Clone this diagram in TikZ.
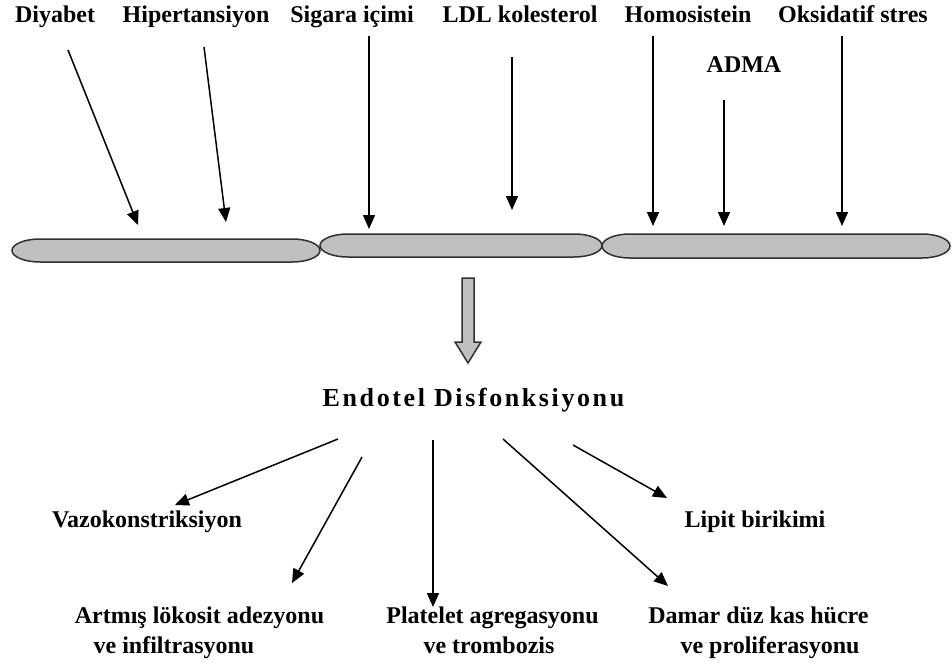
\documentclass[tikz,border=0pt]{standalone}
\usepackage{fontspec}
\setmainfont{Liberation Serif}
\usetikzlibrary{arrows.meta}
\definecolor{capsgray}{HTML}{C0C0C0}
\definecolor{edgegray}{HTML}{303030}
\begin{document}
\begin{tikzpicture}[x=1pt,y=-1pt,
  lbl/.style={anchor=base,inner sep=0pt,font=\fontsize{24}{26}\selectfont\bfseries},
  title/.style={anchor=base,inner sep=0pt,font=\addfontfeatures{LetterSpace=10}\fontsize{26}{28}\selectfont\bfseries},
  arr/.style={line width=1.5pt,-{Triangle[length=14pt,width=12pt]}},
  capsule/.style={draw=edgegray,line width=1.5pt,fill=capsgray}]
\useasboundingbox (0,0) rectangle (952,663);
% top labels
\node[lbl] (dy) at (55,23) {Diyabet};
\node[lbl] (hp) at (196,23) {Hipertansiyon};
\node[lbl] (sg) at (352,23) {Sigara içimi};
\node[lbl] (ldl) at (520,23) {LDL kolesterol};
\node[lbl] (hm) at (688,23) {Homosistein};
\node[lbl] (ox) at (853,23) {Oksidatif stres};
\node[lbl] (adma) at (744,73) {ADMA};
% capsules (elliptical ends)
\draw[capsule] (40,239) -- (292,239) arc[start angle=-90,end angle=90,x radius=28,y radius=11.5]
  -- (40,262) arc[start angle=90,end angle=270,x radius=28,y radius=11.5] -- cycle;
\draw[capsule] (348,234) -- (574,234) arc[start angle=-90,end angle=90,x radius=28,y radius=11.5]
  -- (348,257) arc[start angle=90,end angle=270,x radius=28,y radius=11.5] -- cycle;
\draw[capsule] (630,234) -- (922,234) arc[start angle=-90,end angle=90,x radius=28,y radius=12]
  -- (630,258) arc[start angle=90,end angle=270,x radius=28,y radius=12] -- cycle;
% top arrow coordinates
\coordinate (dy1) at (68,50);   \coordinate (dy2) at (138,225);
\coordinate (hp1) at (204,47);  \coordinate (hp2) at (226,222);
\coordinate (sg1) at (369,36);  \coordinate (sg2) at (369,229);
\coordinate (ld1) at (512,57);  \coordinate (ld2) at (512,210);
\coordinate (hm1) at (653,36);  \coordinate (hm2) at (653,226);
\coordinate (ad1) at (724,100); \coordinate (ad2) at (724,226);
\coordinate (ox1) at (842,36);  \coordinate (ox2) at (842,226);
\draw[arr] (dy1) -- (dy2);
\draw[arr] (hp1) -- (hp2);
\draw[arr] (sg1) -- (sg2);
\draw[arr] (ld1) -- (ld2);
\draw[arr] (hm1) -- (hm2);
\draw[arr] (ad1) -- (ad2);
\draw[arr] (ox1) -- (ox2);
% block arrow
\draw[draw=edgegray,line width=1.5pt,fill=capsgray,line join=miter]
  (462,278) -- (474,278) -- (474,342) -- (481,342) -- (468,363) -- (455,342) -- (462,342) -- cycle;
% title
\node[title] (ed) at (473.5,406) {Endotel Disfonksiyonu};
% bottom labels
\node[lbl] (vz) at (147,527) {Vazokonstriksiyon};
\node[lbl] (lp) at (755,527) {Lipit birikimi};
\node[lbl] (ar) at (199.5,623) {Artmış lökosit adezyonu};
\node[lbl] (ar2) at (174,653) {ve infiltrasyonu};
\node[lbl] (pl) at (492.5,623) {Platelet agregasyonu};
\node[lbl] (pl2) at (489,653) {ve trombozis};
\node[lbl] (dm) at (758.5,623) {Damar düz kas hücre};
\node[lbl] (dm2) at (770,653) {ve proliferasyonu};
% bottom arrows
\coordinate (vz1) at (338,439); \coordinate (vz2) at (175,505);
\coordinate (ar1) at (362,457); \coordinate (ar3) at (292,583);
\coordinate (pl1) at (433,440); \coordinate (pl3) at (433,607);
\coordinate (dm1) at (503,439); \coordinate (dm3) at (668,586);
\coordinate (lp1) at (573,445); \coordinate (lp2) at (667,498);
\draw[arr] (vz1) -- (vz2);
\draw[arr] (ar1) -- (ar3);
\draw[arr] (pl1) -- (pl3);
\draw[arr] (dm1) -- (dm3);
\draw[arr] (lp1) -- (lp2);
\end{tikzpicture}
\end{document}
